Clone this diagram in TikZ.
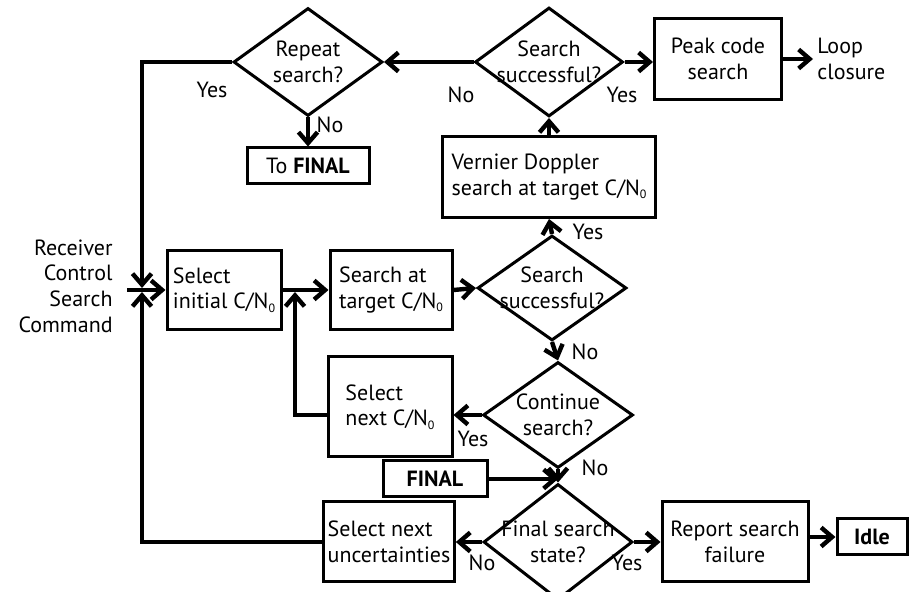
\documentclass[tikz,border=0pt]{standalone}
\usepackage{fontspec}
\setmainfont{PT Sans}
\usetikzlibrary{arrows.meta,shapes.geometric,positioning}

\newcommand{\cno}{C/N\raisebox{-1.6pt}{\fontsize{6}{6}\selectfont 0}}

\tikzset{
  box/.style={draw,line width=1.5pt,inner sep=2pt},
  dec/.style={diamond,draw,line width=1.5pt,inner sep=-9pt,align=center},
  arr/.style={line width=2.2pt,-{Straight Barb[length=5.5pt,width=9.5pt]}},
  lbl/.style={inner sep=0pt}
}

\begin{document}
\begin{tikzpicture}[x=0.5pt,y=-0.5pt,
   font=\fontsize{11}{12.8}\selectfont]
  \useasboundingbox (0,0) rectangle (910,592);

  % decisions
  \node[dec,minimum width=74.5pt,minimum height=54pt] (rep) at (308,62) {Repeat\\search?};
  \node[dec,minimum width=74pt,minimum height=54.5pt] (ss1) at (549,62) {Search\\successful?};
  \node[dec,minimum width=74.5pt,minimum height=52.5pt] (ss2) at (552,288) {Search\\successful?};
  \node[dec,minimum width=75pt,minimum height=53pt] (cont) at (558,415) {Continue\\search?};
  \node[dec,minimum width=74.5pt,minimum height=58pt] (fin) at (558,542) {Final search\\state?};

  % boxes
  \node[box,minimum width=61pt,minimum height=18pt] (tofin) at (308,166) {To \textbf{FINAL}};
  \node[box,align=center,minimum width=63.5pt,minimum height=40.5pt] (peak) at (718,59) {Peak code\\search};
  \node[box,align=left,minimum width=106.5pt,minimum height=40.5pt] (vern) at (549,177) {Vernier Doppler\\search at target \cno};
  \node[box,align=left,minimum width=57pt,minimum height=39.5pt] (init) at (224,290) {Select\\initial \cno};
  \node[box,align=left,minimum width=61pt,minimum height=39.5pt] (targ) at (391,290) {Search at\\target \cno};
  \node[box,align=left,minimum width=62pt,minimum height=50pt] (nxt) at (390,407) {Select\\next \cno};
  \node[box,minimum width=52pt,minimum height=18pt] (final) at (435,479) {\textbf{FINAL}};
  \node[box,align=left,minimum width=65pt,minimum height=40pt] (unc) at (389,542) {Select next\\uncertainties};
  \node[box,align=center,minimum width=73pt,minimum height=40pt] (fail) at (735,542) {Report search\\failure};
  \node[box,minimum width=35pt,minimum height=18pt] (idle) at (872,537) {\textbf{Idle}};

  % free texts
  \node[align=right,anchor=east,inner sep=0pt] (cmd) at (113,286) {Receiver\\Control\\Search\\Command};
  \node[align=left,anchor=west,inner xsep=2pt] (loop) at (813,59) {Loop\\closure};

  \coordinate (jL) at (142,290);
  \coordinate (jM) at (295,290);

  % connectors
  \draw[arr] ([xshift=7pt]cmd.east |- init.west) -- (init.west);
  \draw[arr,shorten >=1pt] (rep.west) -| (jL);
  \draw[arr,shorten >=1pt] (unc.west) -| (jL);
  \draw[arr] (init.east) -- (targ.west);
  \draw[arr,shorten >=1pt] (nxt.west |- cont.west) -| (jM);
  \draw[arr] (targ.east) -- (ss2.west);
  \draw[arr] (ss2.north) -- (vern.south);
  \draw[arr] (vern.north) -- (ss1.south);
  \draw[arr] (ss1.west) -- (rep.east);
  \draw[arr] (ss1.east) -- (peak.west |- ss1.east);
  \draw[arr] (peak.east) -- (loop.west);
  \draw[arr] (rep.south) -- (tofin.north);
  \draw[arr] (ss2.south) -- (cont.north);
  \draw[arr] (cont.west) -- (nxt.east |- cont.west);
  \draw[arr] (cont.south) -- (fin.north);
  \draw[arr] (final.east) -- (final.east -| fin.north);
  \draw[arr] (fin.west) -- (unc.east |- fin.west);
  \draw[arr] (fin.east) -- (fail.west |- fin.east);
  \draw[arr] (fail.east |- idle.west) -- (idle.west);

  % branch labels
  \node[lbl] (y1) at (212,90) {Yes};
  \node[lbl] (n1) at (330,125) {No};
  \node[lbl] (n2) at (461,95) {No};
  \node[lbl] (y2) at (622,95) {Yes};
  \node[lbl] (y3) at (588,232) {Yes};
  \node[lbl] (n3) at (585,352) {No};
  \node[lbl] (y4) at (473,439) {Yes};
  \node[lbl] (n4) at (595,468) {No};
  \node[lbl] (n5) at (482,563) {No};
  \node[lbl] (y5) at (627,563) {Yes};
\end{tikzpicture}
\end{document}
